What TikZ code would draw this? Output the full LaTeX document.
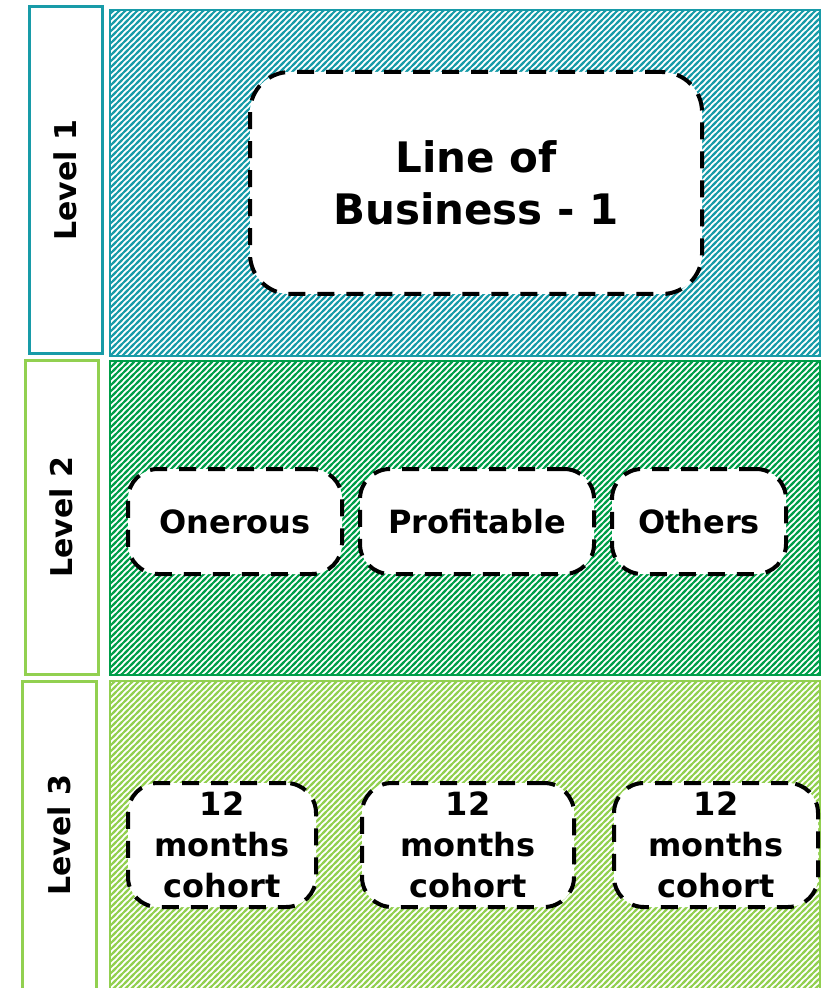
\documentclass[tikz,border=0pt]{standalone}
\usepackage{fontspec}
\setmainfont{DejaVu Sans}
\usetikzlibrary{patterns.meta}
\usetikzlibrary{positioning}
\definecolor{petrolio}{RGB}{24,155,168}
\definecolor{verde}{RGB}{0,158,73}
\definecolor{lime}{RGB}{146,208,80}
\tikzdeclarepattern{
  name=diag stripes,
  type=uncolored,
  bottom left={(-1pt,-1pt)},
  top right={(4pt,4pt)},
  tile size={(3pt,3pt)},
  code={
    \draw[line width=0.95pt] (-1pt,-1pt) -- (4pt,4pt)
      (-1pt,2pt) -- (1pt,4pt)
      (2pt,-1pt) -- (4pt,1pt);
  }
}
\tikzset{
  hierarchy/.style={
    level tag/.style={draw=##1, line width=1.5pt, rotate=90, inner sep=0pt,
      font={\bfseries\fontsize{15}{18}\selectfont}},
    level band/.style={draw=##1, line width=1pt, inner sep=0pt,
      pattern=diag stripes, pattern color=##1},
    group box/.style={draw, fill=white, line width=2pt, dash pattern=on 8.5pt off 6pt,
      rounded corners=15pt, inner sep=0pt, align=center,
      font={\bfseries\fontsize{16}{20.5}\selectfont}},
  }
}

\begin{document}
\begin{tikzpicture}
[
    hierarchy,
    x=0.5pt, y=-0.5pt
]
    \useasboundingbox (0,0) rectangle (824,988);
    \clip (0,0) rectangle (824,988);

    % levels
    \node[level tag=petrolio, minimum width=173.5pt, minimum height=36.5pt] (lev1) at (65.5,180.5) {Level 1};
    \node[level tag=lime, minimum width=156.5pt, minimum height=36.5pt] (lev2) at (61.5,517.5) {Level 2};
    \node[level tag=lime, minimum width=154.5pt, minimum height=37pt] (lev3) at (59,835.5) {Level 3};

    \node[level band=petrolio, minimum width=355pt, minimum height=173pt] (band1) at (465,183) {};
    \node[level band=verde, minimum width=355pt, minimum height=157pt] (band2) at (465,518) {};
    \node[level band=lime, minimum width=355pt, minimum height=157pt] (band3) at (465,838) {};

    % level 1
    \node[group box, rounded corners=20pt, minimum width=226pt, minimum height=111pt,
      font={\bfseries\fontsize{21}{26}\selectfont}] (lob) at (476,183) {Line of\\Business - 1};

    % level 2
    \node[group box, minimum width=107pt, minimum height=52.5pt] (onerous) at (235,521.5) {Onerous};
    \node[group box, minimum width=117pt, minimum height=52.5pt] (profitable) at (477,521.5) {Profitable};
    \node[group box, minimum width=87pt, minimum height=52.5pt] (others) at (699,521.5) {Others};

    % level 3
    \node[group box, minimum width=94pt, minimum height=62pt] (cohortA) at (222,845) {12\\months\\cohort};
    \node[group box, minimum width=106pt, minimum height=62pt] (cohortB) at (468,845) {12\\months\\cohort};
    \node[group box, minimum width=102pt, minimum height=62pt] (cohortC) at (716,845) {12\\months\\cohort};
\end{tikzpicture}
\end{document}
